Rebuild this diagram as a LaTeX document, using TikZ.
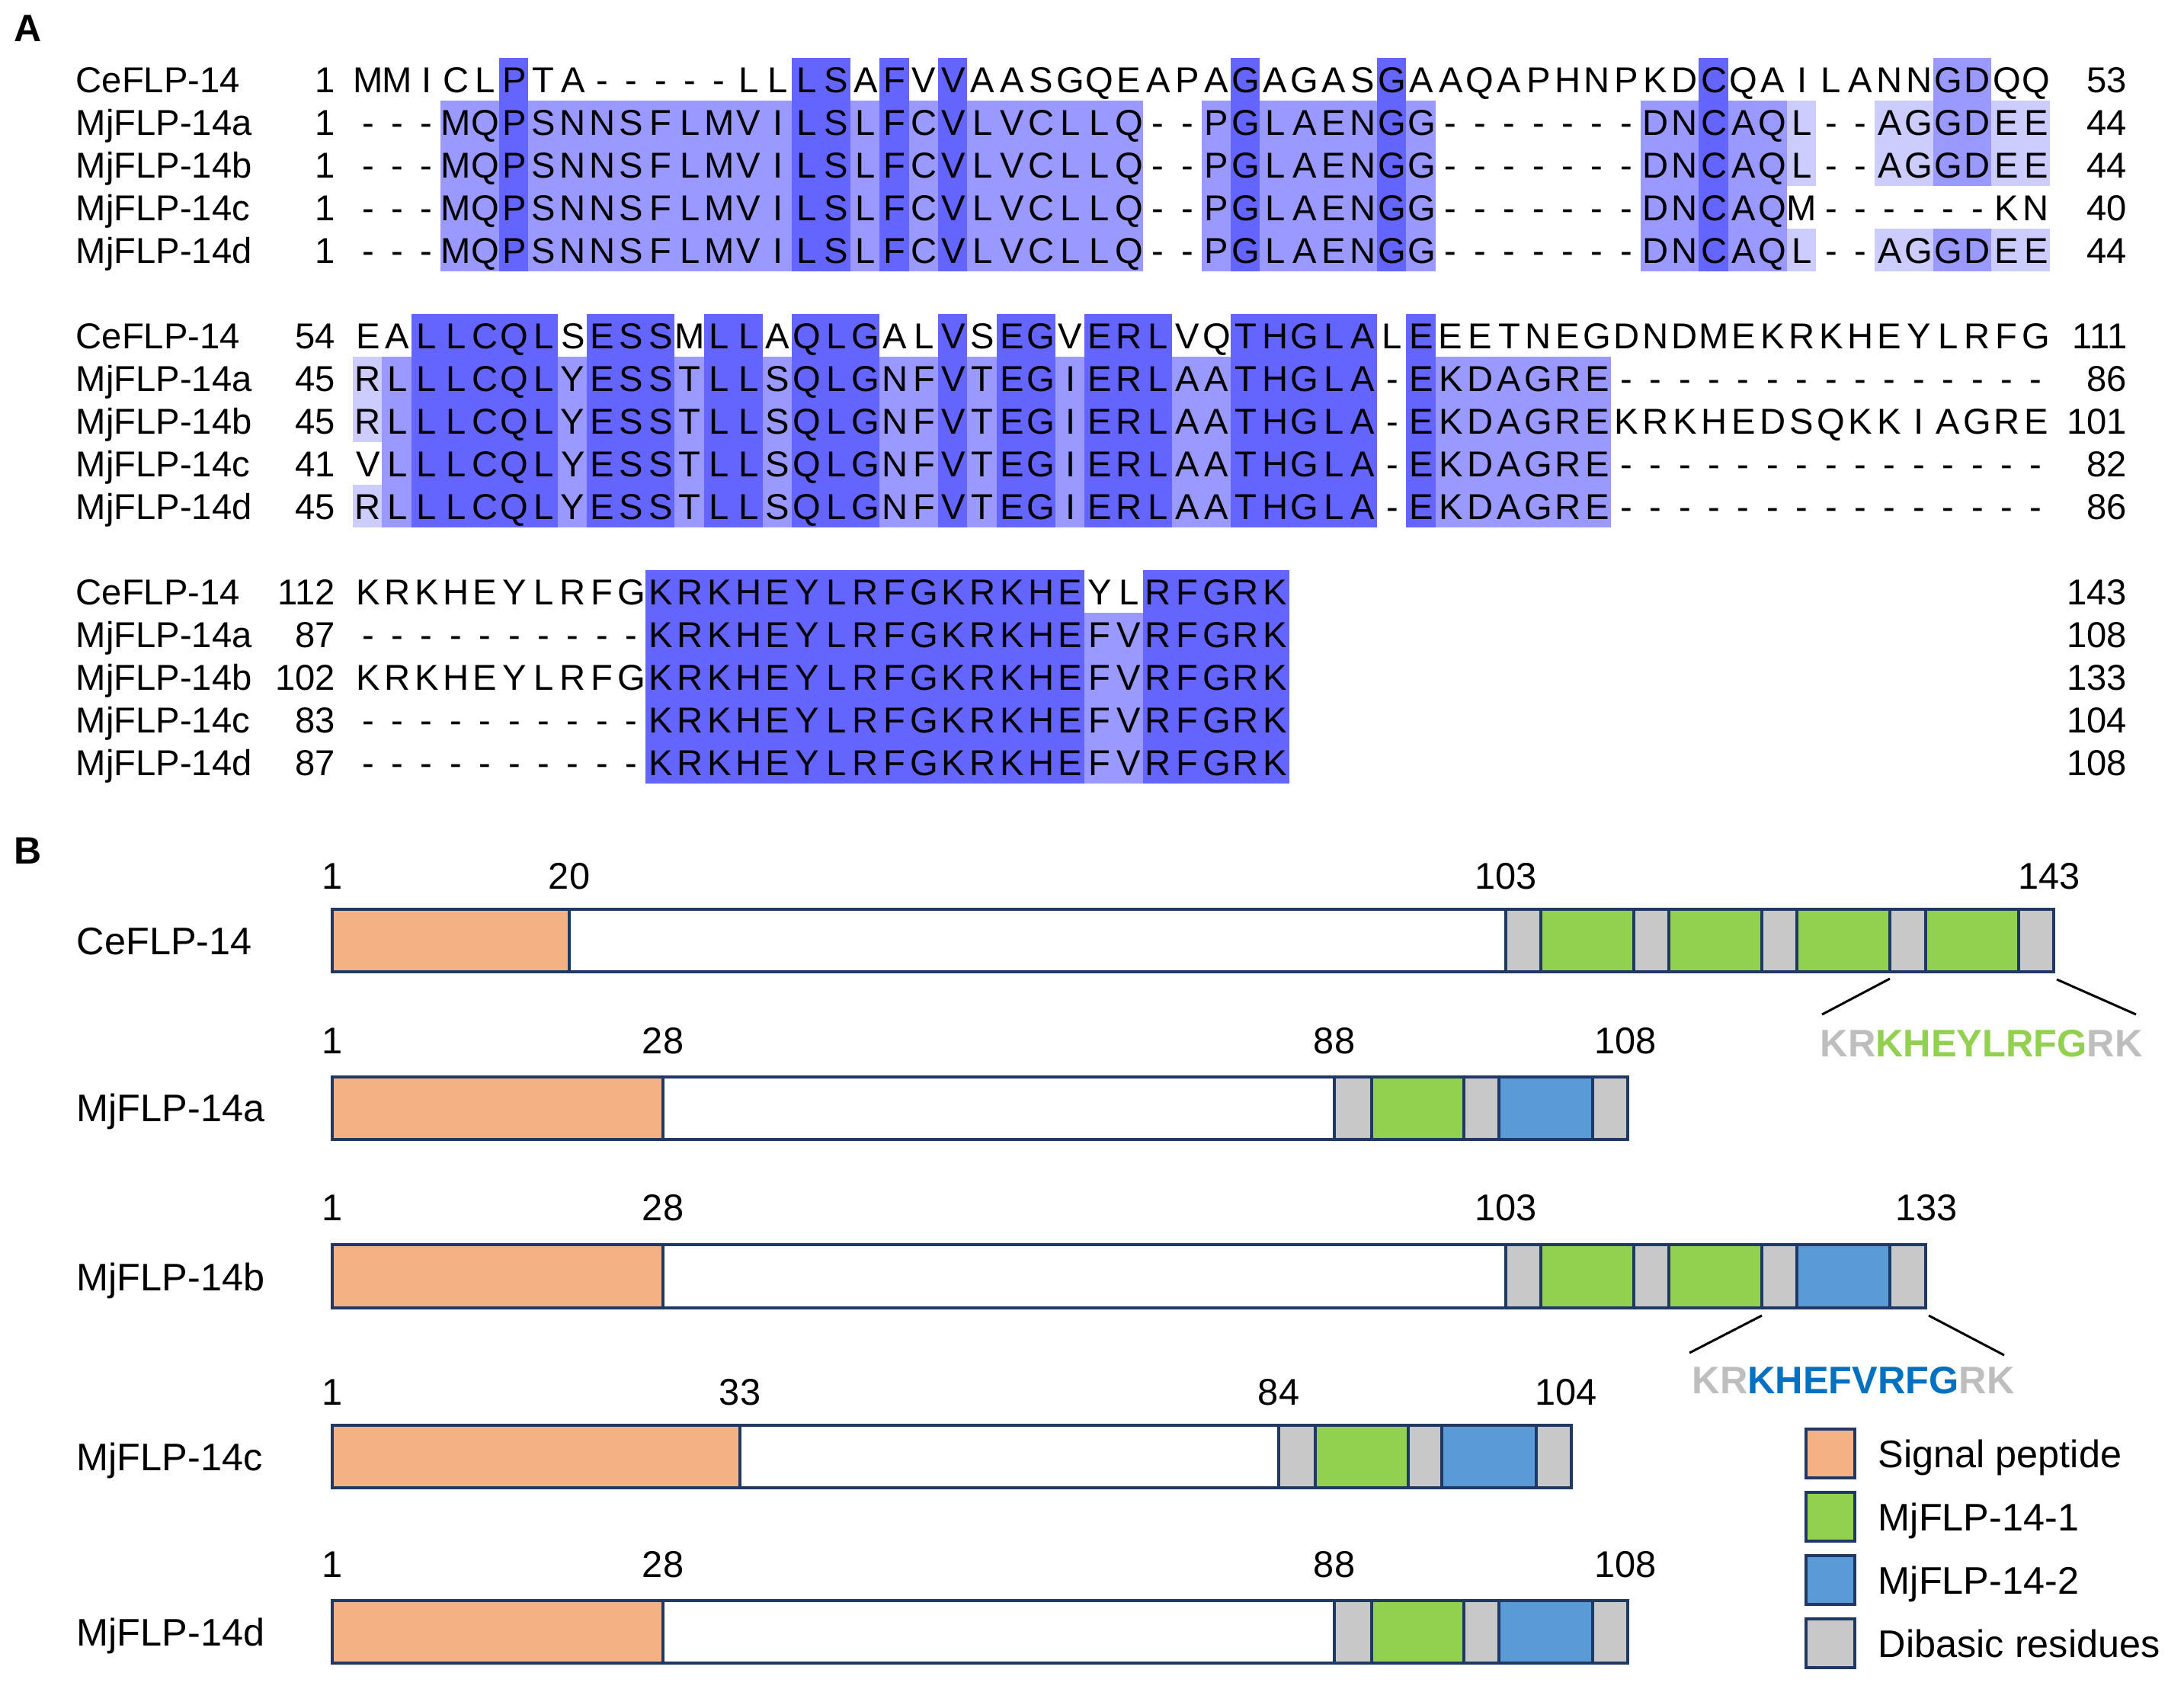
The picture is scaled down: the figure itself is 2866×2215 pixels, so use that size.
\documentclass[tikz,border=0pt]{standalone}
\usepackage{fontspec}
\setmainfont{Liberation Sans}
\definecolor{hdark}{RGB}{100,100,255}
\definecolor{hmed}{RGB}{153,153,255}
\definecolor{hlight}{RGB}{204,204,255}
\definecolor{navy}{RGB}{31,56,100}
\definecolor{sigc}{RGB}{244,177,131}
\definecolor{grn}{RGB}{146,208,80}
\definecolor{blu}{RGB}{91,155,213}
\definecolor{dib}{RGB}{200,200,200}
\definecolor{txtgray}{RGB}{190,190,190}
\definecolor{txtblue}{RGB}{0,112,192}
\newcommand{\sqcell}[1]{\makebox[9.6pt][c]{#1}}
\makeatletter
\def\mkseq#1{\mkseq@i#1\relax}
\def\mkseq@i#1{\ifx#1\relax\else\sqcell{#1}\expandafter\mkseq@i\fi}
\makeatother
% highlight: block, rowfrom, rowto, colfrom, colto, colour
\newcommand{\hlbox}[6]{\fill[#6] ({463+(#4-1)*38.4},{76+336*#1+56*#2}) rectangle ({463+#5*38.4},{76+336*#1+56*(#3+1)});}
\newcommand{\alnrow}[6]{%
  \pgfmathsetmacro{\yb}{104+336*#1+56*#2+17.5}
  \node[aln, anchor=base west] (nm#1#2) at (99,\yb) {#3};
  \node[aln, anchor=base east] (st#1#2) at (441,\yb) {#4};
  \node[aln, anchor=base west] (sq#1#2) at (463,\yb) {\mkseq{#5}};
  \node[aln, anchor=base east] (en#1#2) at (2792,\yb) {#6};
}
\newcommand{\bseg}[5]{\filldraw[barline, fill=#5] (#1,#3) rectangle (#2,#4);}
\begin{document}
\begin{tikzpicture}[x=0.25pt,y=-0.25pt,
  aln/.style={inner sep=0pt, font=\fontsize{11.8}{14}\selectfont},
  lbl/.style={inner sep=0pt, font=\fontsize{12.6}{15}\selectfont},
  num/.style={inner sep=0pt, font=\fontsize{12.2}{14}\selectfont, anchor=base},
  panel/.style={inner sep=0pt, font=\fontsize{12.5}{15}\selectfont\bfseries, anchor=base west},
  barline/.style={draw=navy, line width=0.9pt},
  legbox/.style={draw=navy, line width=1pt},
  callout/.style={draw=black, line width=0.75pt},
  pep/.style={inner sep=0pt, font=\fontsize{12.6}{15}\selectfont\bfseries}]
\useasboundingbox (0,0) rectangle (2866,2215);
\fill[white] (0,0) rectangle (2866,2215);

% ---------- panel labels ----------
\node[panel] (labA) at (18,55) {A};
\node[panel] (labB) at (18,1133) {B};

% ---------- block 1 highlights ----------
\hlbox{0}{1}{4}{4}{27}{hmed}
\hlbox{0}{1}{4}{30}{37}{hmed}
\hlbox{0}{1}{4}{45}{49}{hmed}
\hlbox{0}{1}{2}{50}{50}{hlight}
\hlbox{0}{4}{4}{50}{50}{hlight}
\hlbox{0}{1}{2}{53}{54}{hlight}
\hlbox{0}{4}{4}{53}{54}{hlight}
\hlbox{0}{0}{2}{55}{56}{hmed}
\hlbox{0}{4}{4}{55}{56}{hmed}
\hlbox{0}{1}{2}{57}{58}{hlight}
\hlbox{0}{4}{4}{57}{58}{hlight}
\foreach \a/\z in {6/6,16/17,19/19,21/21,31/31,36/36,47/47}{\hlbox{0}{0}{4}{\a}{\z}{hdark}}

% ---------- block 2 highlights ----------
\hlbox{1}{1}{2}{1}{1}{hlight}
\hlbox{1}{4}{4}{1}{1}{hlight}
\hlbox{1}{1}{4}{2}{35}{hmed}
\hlbox{1}{1}{4}{38}{43}{hmed}
\foreach \a/\z in {3/7,9/11,13/14,16/18,21/21,23/24,26/28,31/35,37/37}{\hlbox{1}{0}{4}{\a}{\z}{hdark}}

% ---------- block 3 highlights ----------
\hlbox{2}{1}{4}{26}{27}{hmed}
\foreach \a/\z in {11/25,28/32}{\hlbox{2}{0}{4}{\a}{\z}{hdark}}

% ---------- alignment text ----------
\alnrow{0}{0}{CeFLP-14}{1}{MMICLPTA-----LLLSAFVVAASGQEAPAGAGASGAAQAPHNPKDCQAILANNGDQQ}{53}
\alnrow{0}{1}{MjFLP-14a}{1}{---MQPSNNSFLMVILSLFCVLVCLLQ--PGLAENGG-------DNCAQL--AGGDEE}{44}
\alnrow{0}{2}{MjFLP-14b}{1}{---MQPSNNSFLMVILSLFCVLVCLLQ--PGLAENGG-------DNCAQL--AGGDEE}{44}
\alnrow{0}{3}{MjFLP-14c}{1}{---MQPSNNSFLMVILSLFCVLVCLLQ--PGLAENGG-------DNCAQM------KN}{40}
\alnrow{0}{4}{MjFLP-14d}{1}{---MQPSNNSFLMVILSLFCVLVCLLQ--PGLAENGG-------DNCAQL--AGGDEE}{44}

\alnrow{1}{0}{CeFLP-14}{54}{EALLCQLSESSMLLAQLGALVSEGVERLVQTHGLALEEETNEGDNDMEKRKHEYLRFG}{111}
\alnrow{1}{1}{MjFLP-14a}{45}{RLLLCQLYESSTLLSQLGNFVTEGIERLAATHGLA-EKDAGRE---------------}{86}
\alnrow{1}{2}{MjFLP-14b}{45}{RLLLCQLYESSTLLSQLGNFVTEGIERLAATHGLA-EKDAGREKRKHEDSQKKIAGRE}{101}
\alnrow{1}{3}{MjFLP-14c}{41}{VLLLCQLYESSTLLSQLGNFVTEGIERLAATHGLA-EKDAGRE---------------}{82}
\alnrow{1}{4}{MjFLP-14d}{45}{RLLLCQLYESSTLLSQLGNFVTEGIERLAATHGLA-EKDAGRE---------------}{86}

\alnrow{2}{0}{CeFLP-14}{112}{KRKHEYLRFGKRKHEYLRFGKRKHEYLRFGRK}{143}
\alnrow{2}{1}{MjFLP-14a}{87}{----------KRKHEYLRFGKRKHEFVRFGRK}{108}
\alnrow{2}{2}{MjFLP-14b}{102}{KRKHEYLRFGKRKHEYLRFGKRKHEFVRFGRK}{133}
\alnrow{2}{3}{MjFLP-14c}{83}{----------KRKHEYLRFGKRKHEFVRFGRK}{104}
\alnrow{2}{4}{MjFLP-14d}{87}{----------KRKHEYLRFGKRKHEFVRFGRK}{108}

% ---------- panel B: CeFLP-14 ----------
\node[lbl, anchor=base west] (bnCe) at (100,1252) {CeFLP-14};
\bseg{436}{747}{1193}{1275}{sigc}
\bseg{747}{1976}{1193}{1275}{white}
\bseg{1976}{2022}{1193}{1275}{dib}
\bseg{2022}{2144}{1193}{1275}{grn}
\bseg{2144}{2190}{1193}{1275}{dib}
\bseg{2190}{2312}{1193}{1275}{grn}
\bseg{2312}{2358}{1193}{1275}{dib}
\bseg{2358}{2480}{1193}{1275}{grn}
\bseg{2480}{2527}{1193}{1275}{dib}
\bseg{2527}{2649}{1193}{1275}{grn}
\bseg{2649}{2695}{1193}{1275}{dib}
\node[num] (ceN1) at (436,1166) {1};
\node[num] (ceN2) at (747,1166) {20};
\node[num] (ceN3) at (1976,1166) {103};
\node[num] (ceN4) at (2689,1166) {143};
\coordinate (ceA) at (2480,1284);
\coordinate (ceB) at (2391,1331);
\coordinate (ceC) at (2699,1285);
\coordinate (ceD) at (2803,1331);
\draw[callout] (ceA) -- (ceB);
\draw[callout] (ceC) -- (ceD);
\node[pep] (cePep) at (2600,1369) {\textcolor{txtgray}{KR}\textcolor{grn}{KHEYLRFG}\textcolor{txtgray}{RK}};

% ---------- MjFLP-14a ----------
\node[lbl, anchor=base west] (bnA) at (100,1471) {MjFLP-14a};
\bseg{436}{870}{1413}{1495}{sigc}
\bseg{870}{1751}{1413}{1495}{white}
\bseg{1751}{1800}{1413}{1495}{dib}
\bseg{1800}{1921}{1413}{1495}{grn}
\bseg{1921}{1967}{1413}{1495}{dib}
\bseg{1967}{2090}{1413}{1495}{blu}
\bseg{2090}{2136}{1413}{1495}{dib}
\node[num] (aN1) at (436,1382) {1};
\node[num] (aN2) at (870,1382) {28};
\node[num] (aN3) at (1751,1382) {88};
\node[num] (aN4) at (2133,1382) {108};

% ---------- MjFLP-14b ----------
\node[lbl, anchor=base west] (bnB) at (100,1693) {MjFLP-14b};
\bseg{436}{870}{1633}{1716}{sigc}
\bseg{870}{1976}{1633}{1716}{white}
\bseg{1976}{2022}{1633}{1716}{dib}
\bseg{2022}{2144}{1633}{1716}{grn}
\bseg{2144}{2190}{1633}{1716}{dib}
\bseg{2190}{2312}{1633}{1716}{grn}
\bseg{2312}{2358}{1633}{1716}{dib}
\bseg{2358}{2480}{1633}{1716}{blu}
\bseg{2480}{2527}{1633}{1716}{dib}
\node[num] (bN1) at (436,1601) {1};
\node[num] (bN2) at (870,1601) {28};
\node[num] (bN3) at (1976,1601) {103};
\node[num] (bN4) at (2528,1601) {133};
\coordinate (bA) at (2312,1726);
\coordinate (bB) at (2217,1775);
\coordinate (bC) at (2531,1726);
\coordinate (bD) at (2630,1778);
\draw[callout] (bA) -- (bB);
\draw[callout] (bC) -- (bD);
\node[pep] (bPep) at (2432,1811) {\textcolor{txtgray}{KR}\textcolor{txtblue}{KHEFVRFG}\textcolor{txtgray}{RK}};

% ---------- MjFLP-14c ----------
\node[lbl, anchor=base west] (bnC) at (100,1929) {MjFLP-14c};
\bseg{436}{971}{1870}{1952}{sigc}
\bseg{971}{1678}{1870}{1952}{white}
\bseg{1678}{1726}{1870}{1952}{dib}
\bseg{1726}{1848}{1870}{1952}{grn}
\bseg{1848}{1892}{1870}{1952}{dib}
\bseg{1892}{2016}{1870}{1952}{blu}
\bseg{2016}{2062}{1870}{1952}{dib}
\node[num] (cN1) at (436,1843) {1};
\node[num] (cN2) at (971,1843) {33};
\node[num] (cN3) at (1678,1843) {84};
\node[num] (cN4) at (2055,1843) {104};

% ---------- MjFLP-14d ----------
\node[lbl, anchor=base west] (bnD) at (100,2159) {MjFLP-14d};
\bseg{436}{870}{2100}{2182}{sigc}
\bseg{870}{1751}{2100}{2182}{white}
\bseg{1751}{1800}{2100}{2182}{dib}
\bseg{1800}{1921}{2100}{2182}{grn}
\bseg{1921}{1967}{2100}{2182}{dib}
\bseg{1967}{2090}{2100}{2182}{blu}
\bseg{2090}{2136}{2100}{2182}{dib}
\node[num] (dN1) at (436,2069) {1};
\node[num] (dN2) at (870,2069) {28};
\node[num] (dN3) at (1751,2069) {88};
\node[num] (dN4) at (2133,2069) {108};

% ---------- legend ----------
\filldraw[legbox, fill=sigc] (2370,1875) rectangle (2434,1939);
\filldraw[legbox, fill=grn] (2370,1958) rectangle (2434,2022);
\filldraw[legbox, fill=blu] (2370,2041) rectangle (2434,2105);
\filldraw[legbox, fill=dib] (2370,2124) rectangle (2434,2188);
\node[lbl, anchor=base west] (lg1) at (2464,1925) {Signal peptide};
\node[lbl, anchor=base west] (lg2) at (2464,2008) {MjFLP-14-1};
\node[lbl, anchor=base west] (lg3) at (2464,2091) {MjFLP-14-2};
\node[lbl, anchor=base west] (lg4) at (2464,2174) {Dibasic residues};
\end{tikzpicture}
\end{document}
